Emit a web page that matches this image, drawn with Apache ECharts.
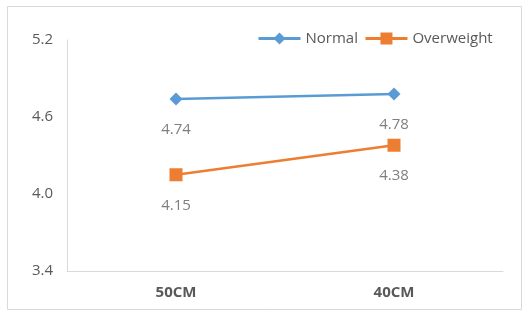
<!DOCTYPE html>
<html><head><meta charset="utf-8">
<script src="https://cdn.jsdelivr.net/npm/echarts@6/dist/echarts.min.js"></script>
<style>html,body{margin:0;padding:0;background:#fff}#c{width:528px;height:312px}</style>
</head><body><div id="c"></div>
<script>
const categories = ['50CM', '40CM'];
const normal = [4.74, 4.78];
const overweight = [4.15, 4.38];
const yTicks = [3.4, 4.0, 4.6, 5.2];

const chart = echarts.init(document.getElementById('c'));
const font = 'Open Sans';
chart.setOption({
  animation: false,
  graphic: [{type: 'rect', shape: {x: 7.5, y: 6.5, width: 514, height: 303}, style: {fill: 'none', stroke: '#d9d9d9', lineWidth: 1}}],
  legend: {
    top: 26, left: 252,
    itemWidth: 42, itemHeight: 15, itemGap: 6,
    lineStyle: {width: 3},
    textStyle: {color: '#595959', fontSize: 15, fontFamily: font},
    data: ['Normal', 'Overweight']
  },
  grid: {left: 67, right: 25, top: 40, bottom: 41},
  xAxis: {
    type: 'category', data: categories, boundaryGap: true,
    axisLine: {lineStyle: {color: '#d9d9d9', width: 1}},
    axisTick: {show: false},
    axisLabel: {color: '#595959', fontSize: 15, fontWeight: 'bold', fontFamily: font, margin: 14}
  },
  yAxis: {
    type: 'value', min: yTicks[0], max: yTicks[yTicks.length - 1], interval: 0.6,
    axisLine: {show: true, lineStyle: {color: '#d9d9d9', width: 1}},
    axisTick: {show: false},
    splitLine: {show: false},
    axisLabel: {color: '#595959', fontSize: 15, fontFamily: font, margin: 14, formatter: v => v.toFixed(1)}
  },
  series: [
    {name: 'Normal', type: 'line', data: normal, symbol: 'diamond', symbolSize: 13,
     itemStyle: {color: '#5b9bd5'}, lineStyle: {color: '#5b9bd5', width: 2.5},
     label: {show: true, position: 'bottom', distance: 17, color: '#7f7f7f', fontSize: 15, fontFamily: font, formatter: p => p.value.toFixed(2)}},
    {name: 'Overweight', type: 'line', data: overweight, symbol: 'rect', symbolSize: 13,
     itemStyle: {color: '#ed7d31'}, lineStyle: {color: '#ed7d31', width: 2.5},
     label: {show: true, position: 'bottom', distance: 17, color: '#7f7f7f', fontSize: 15, fontFamily: font, formatter: p => p.value.toFixed(2)}}
  ]
});
</script></body></html>
